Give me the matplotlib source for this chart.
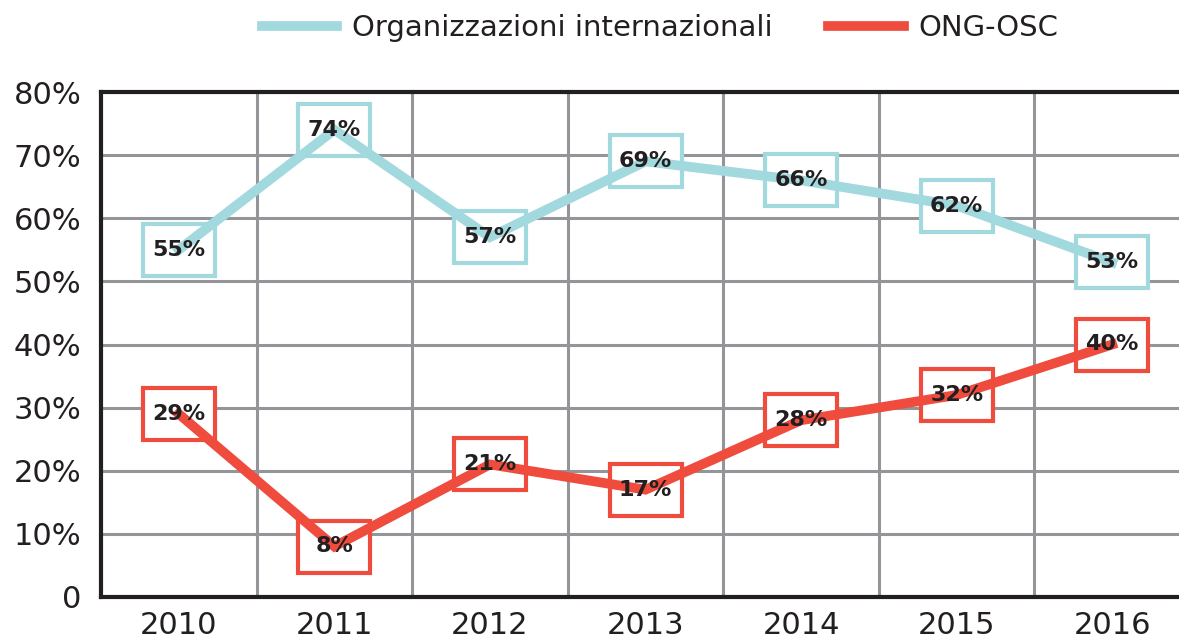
import matplotlib.pyplot as plt
import matplotlib.transforms as mtransforms
from matplotlib.patches import Rectangle

anni = ["2010", "2011", "2012", "2013", "2014", "2015", "2016"]
org_internazionali = [55, 74, 57, 69, 66, 62, 53]
ong_osc = [29, 8, 21, 17, 28, 32, 40]
y_ticks = [0, 10, 20, 30, 40, 50, 60, 70, 80]
y_labels = ["0", "10%", "20%", "30%", "40%", "50%", "60%", "70%", "80%"]

CYAN = "#A2D9DE"
RED = "#EF4C3E"
INK = "#231F20"
GRID = "#939598"

plt.rcParams['font.family'] = ['DejaVu Sans']

W, H = 1179, 643
fig = plt.figure(figsize=(W / 100, H / 100), dpi=100)
ax = fig.add_axes([101 / W, 46 / H, (1190 - 101) / W, 505 / H])

x = list(range(len(anni)))

def serie(vals, color, label):
    ax.plot(x, vals, color=color, lw=7, solid_joinstyle="miter", zorder=4, label=label)
    for xi, v in zip(x, vals):
        # box in inches, anchored at the data point
        tr = fig.dpi_scale_trans + mtransforms.ScaledTranslation(xi, v, ax.transData)
        ax.add_patch(Rectangle((-0.36, -0.26), 0.72, 0.52, transform=tr,
                               facecolor="white", edgecolor=color, lw=3, zorder=3,
                               clip_on=False))
        ax.text(xi, v, f"{v}%", ha="center", va="center", fontsize=16,
                fontweight="bold", color=INK, zorder=5)

serie(org_internazionali, CYAN, "Organizzazioni internazionali")
serie(ong_osc, RED, "ONG-OSC")

ax.set_xlim(-0.5, len(anni) - 0.5)
ax.set_ylim(0, 80)
ax.set_yticks(y_ticks)
ax.set_yticklabels(y_labels)
ax.set_xticks(x)
ax.set_xticklabels(anni)
ax.set_xticks([i + 0.5 for i in range(len(anni) - 1)], minor=True)
ax.tick_params(axis="both", which="both", length=0, labelsize=22, labelcolor=INK)
ax.tick_params(axis="x", pad=10)
ax.tick_params(axis="y", pad=14)

ax.grid(axis="y", which="major", color=GRID, lw=2.2, zorder=1)
ax.grid(axis="x", which="minor", color=GRID, lw=2.2, zorder=1)
ax.grid(axis="x", which="major", visible=False)
ax.set_axisbelow(True)

for s in ["left", "bottom", "top"]:
    ax.spines[s].set_color(INK)
    ax.spines[s].set_linewidth(3)
ax.spines["right"].set_visible(False)

fig.legend(loc="center", bbox_to_anchor=(660 / W, 1 - 28 / H), ncol=2, frameon=False,
           fontsize=21, handlelength=2.6, handletextpad=0.5, columnspacing=1.9,
           labelcolor=INK)

fig.savefig("out.png", dpi=100)
